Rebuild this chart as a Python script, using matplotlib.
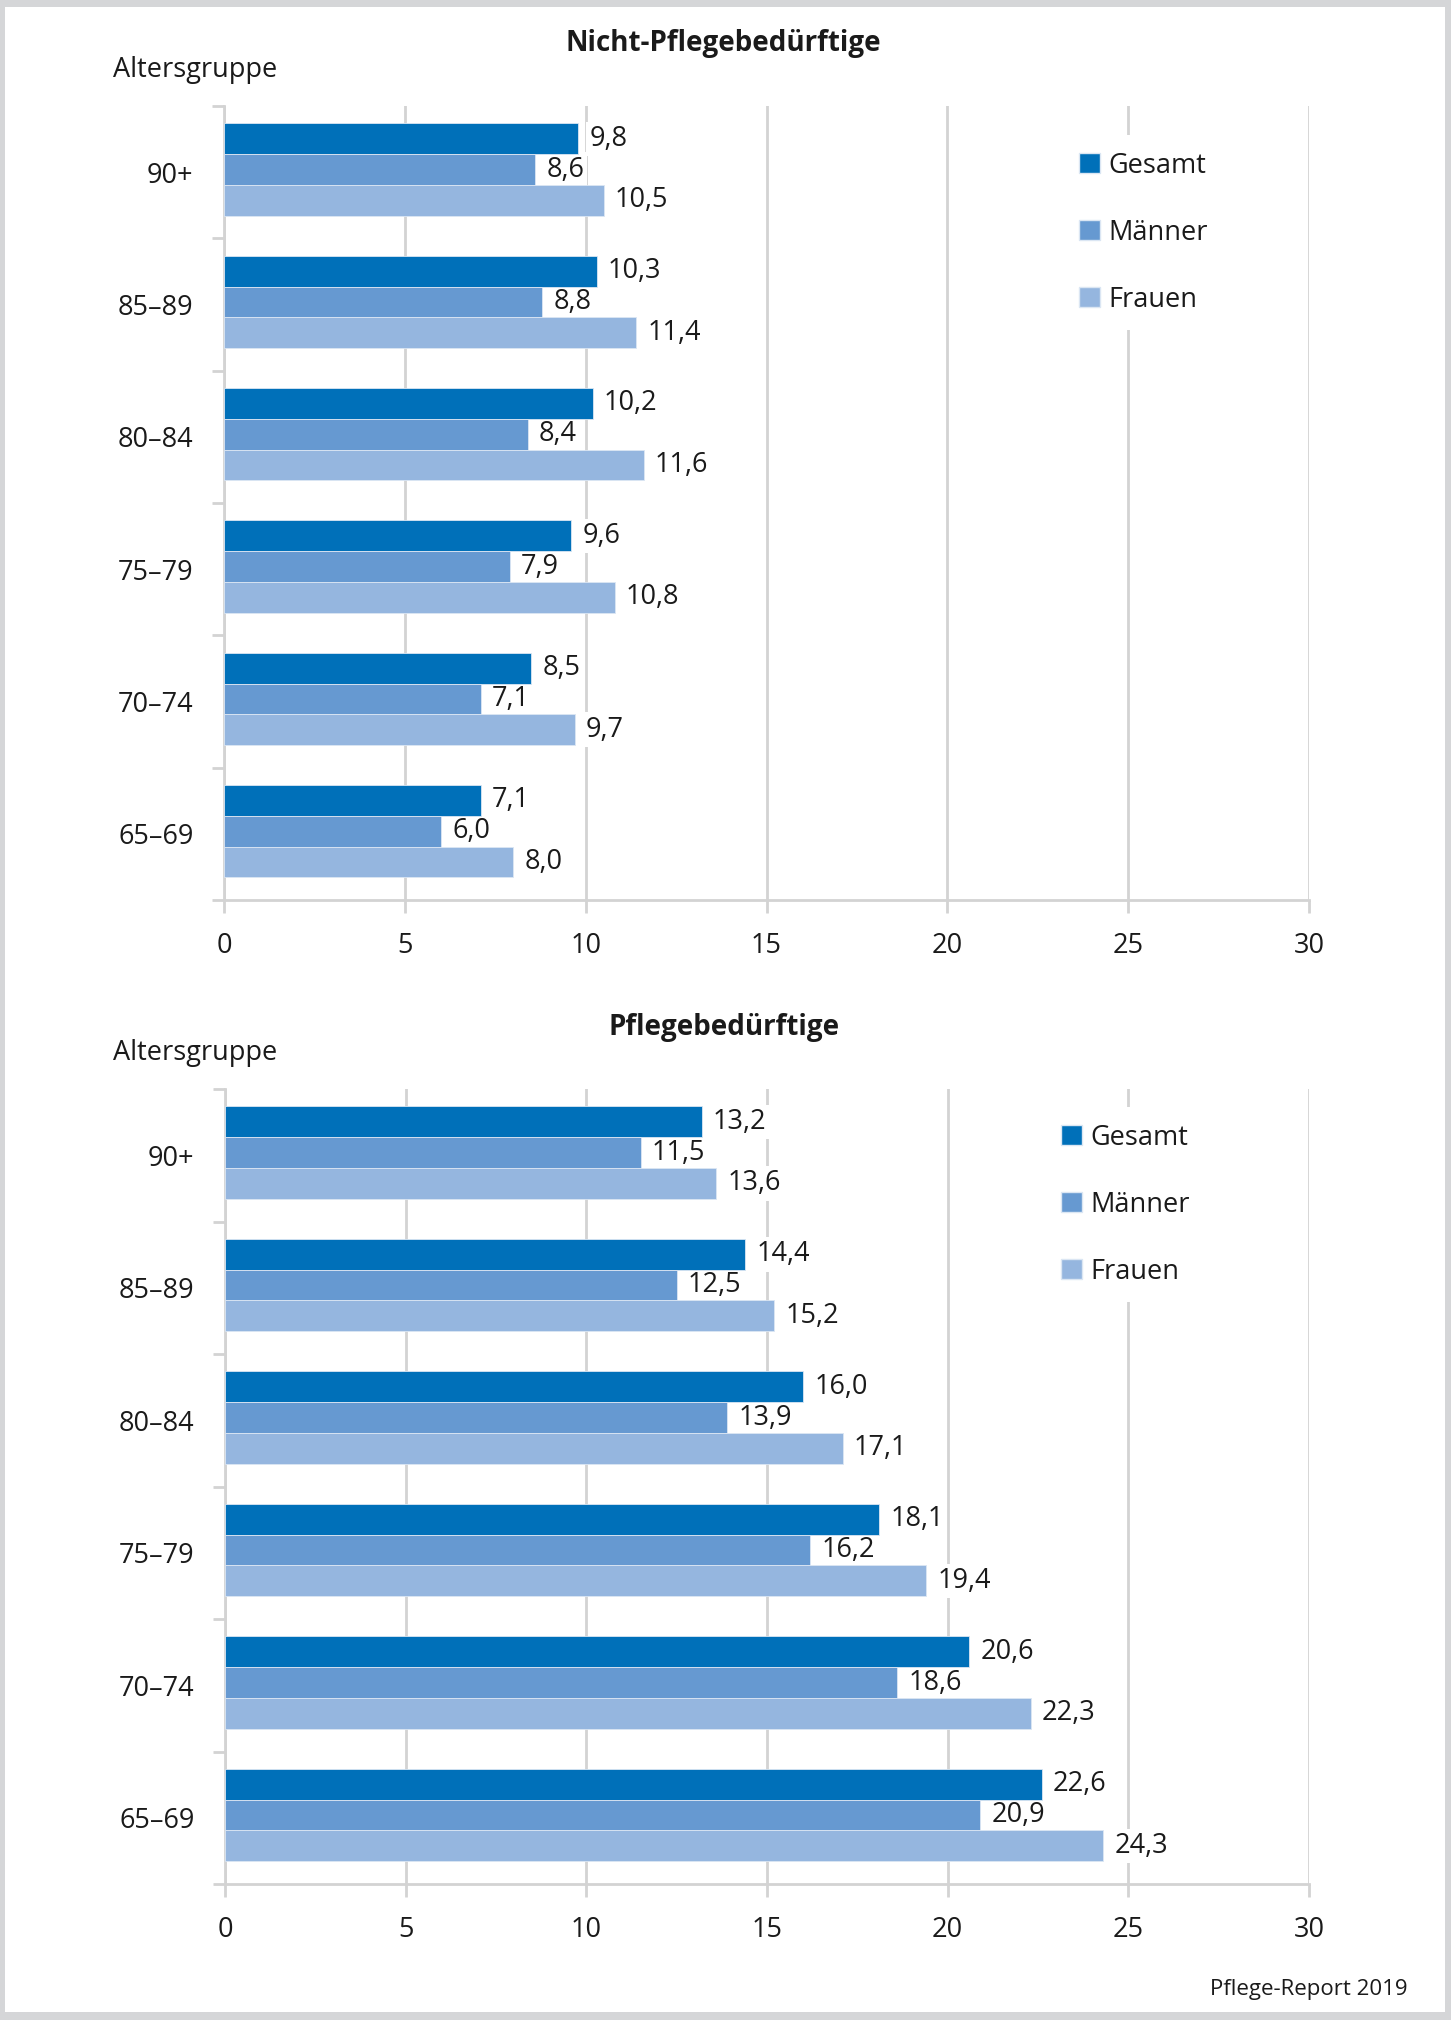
import matplotlib.pyplot as plt
from matplotlib.patches import Patch, Rectangle
import numpy as np

plt.rcParams['font.family'] = ['Open Sans', 'DejaVu Sans']

gruppen = ['90+', '85–89', '80–84', '75–79', '70–74', '65–69']
serien = ['Gesamt', 'Männer', 'Frauen']
farben = ['#0070b9', '#6699d1', '#95b6df']

# Nicht-Pflegebeduerftige
nicht_gesamt = [9.8, 10.3, 10.2, 9.6, 8.5, 7.1]
nicht_maenner = [8.6, 8.8, 8.4, 7.9, 7.1, 6.0]
nicht_frauen = [10.5, 11.4, 11.6, 10.8, 9.7, 8.0]

# Pflegebeduerftige
pflege_gesamt = [13.2, 14.4, 16.0, 18.1, 20.6, 22.6]
pflege_maenner = [11.5, 12.5, 13.9, 16.2, 18.6, 20.9]
pflege_frauen = [13.6, 15.2, 17.1, 19.4, 22.3, 24.3]

x_ticks = [0, 5, 10, 15, 20, 25, 30]

grau = '#d3d3d3'
text_farbe = '#1a1a1a'
fs = 19.5

fig = plt.figure(figsize=(14.51, 20.20), dpi=100)
fig.patch.set_facecolor('#d5d6d8')
fig.patches.append(Rectangle((5 / 1451, 1 - 2012 / 2020), 1440 / 1451, 2005 / 2020,
                             transform=fig.transFigure, facecolor='white',
                             edgecolor='none', zorder=-5))


def zeichne(ax, werte, titel, titel_y, legend_x):
    y = np.arange(len(gruppen))
    h = 0.232
    for i, (vals, farbe, name) in enumerate(zip(werte, farben, serien)):
        pos = y + (i - 1) * h - 0.02
        ax.barh(pos, vals, height=h, color=farbe, edgecolor='#dbe6f3',
                linewidth=0.6, zorder=3, label=name)
        for p, v in zip(pos, vals):
            ax.annotate(f'{v:.1f}'.replace('.', ','), (v, p), xytext=(8, 0),
                        textcoords='offset points', ha='left', va='center',
                        fontsize=fs, color=text_farbe, zorder=2,
                        bbox=dict(boxstyle='square,pad=0.12', fc='white', ec='none'))
    ax.set_xlim(0, 30)
    ax.set_ylim(len(gruppen) - 0.5, -0.5)
    ax.set_xticks(x_ticks)
    ax.set_xticklabels([str(t) for t in x_ticks])
    ax.set_yticks(y)
    ax.set_yticklabels(gruppen)
    ax.set_yticks(np.arange(len(gruppen) + 1) - 0.5, minor=True)
    ax.tick_params(axis='y', which='major', length=0, pad=22, labelsize=fs,
                   labelcolor=text_farbe)
    ax.tick_params(axis='y', which='minor', length=9, width=2, color=grau)
    ax.tick_params(axis='x', which='major', length=9, width=2, color=grau,
                   pad=14, labelsize=fs, labelcolor=text_farbe)
    ax.grid(axis='x', color=grau, linewidth=2, zorder=0)
    ax.set_axisbelow(True)
    ax.patch.set_alpha(0)
    for s in ['top', 'right']:
        ax.spines[s].set_visible(False)
    for s in ['left', 'bottom']:
        ax.spines[s].set_color(grau)
        ax.spines[s].set_linewidth(2)
    handles = [Patch(facecolor=f, edgecolor='#dbe6f3', label=n) for f, n in zip(farben, serien)]
    leg = ax.legend(handles=handles, loc='upper left', bbox_to_anchor=legend_x,
                    frameon=True, fancybox=False, edgecolor='none', facecolor='white',
                    framealpha=1, fontsize=fs, labelspacing=1.44, handlelength=0.75,
                    handleheight=0.75, handletextpad=0.33, borderpad=0.6)
    for t in leg.get_texts():
        t.set_color(text_farbe)
    leg.set_zorder(5)
    fig.text(ax.get_position().x0 + (ax.get_position().x1 - ax.get_position().x0) * 0.46,
             titel_y, titel, ha='center', va='center', fontsize=20,
             fontweight='bold', color=text_farbe)
    fig.text(113 / 1451, ax.get_position().y1 + 0.018, 'Altersgruppe',
             ha='left', va='center', fontsize=fs, color=text_farbe)


ax1 = fig.add_axes([224 / 1451, 1 - 900 / 2020, 1085 / 1451, 794 / 2020])
ax2 = fig.add_axes([225 / 1451, 1 - 1884 / 2020, 1084 / 1451, 795 / 2020])

zeichne(ax1, [nicht_gesamt, nicht_maenner, nicht_frauen], 'Nicht-Pflegebedürftige',
        1 - 43 / 2020, (0.761, 0.98))
zeichne(ax2, [pflege_gesamt, pflege_maenner, pflege_frauen], 'Pflegebedürftige',
        1 - 1028 / 2020, (0.744, 0.994))

fig.text(1408 / 1451, 1 - 1990 / 2020, 'Pflege-Report 2019', ha='right', va='center',
         fontsize=16, color=text_farbe)

fig.savefig('out.png', dpi=100, facecolor=fig.get_facecolor())
